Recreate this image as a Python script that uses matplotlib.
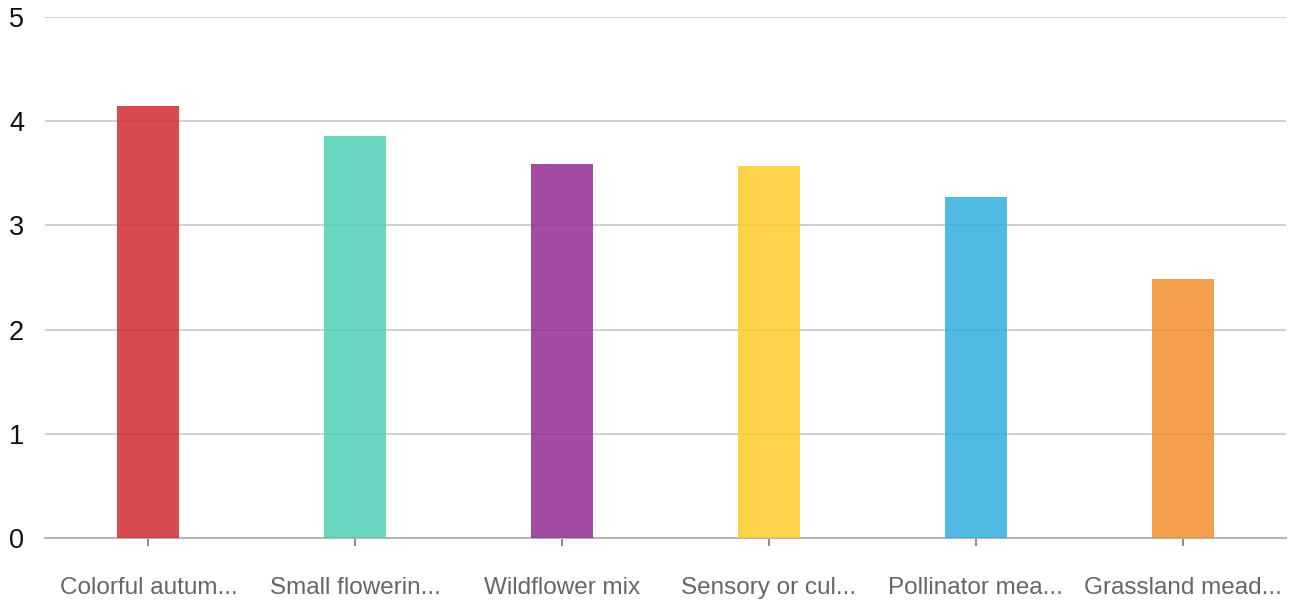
import matplotlib
matplotlib.use("Agg")
import matplotlib.pyplot as plt

categories = ["Colorful autum...", "Small flowerin...", "Wildflower mix",
              "Sensory or cul...", "Pollinator mea...", "Grassland mead..."]
values = [4.15, 3.86, 3.59, 3.57, 3.27, 2.49]
colors = ["#d02a2f", "#50d1b5", "#942b93", "#fdcc2a", "#30afdd", "#f38e2d"]
yticks = [0, 1, 2, 3, 4, 5]

plt.rcParams['font.family'] = ['Liberation Sans', 'DejaVu Sans']

fig = plt.figure(figsize=(12.91, 6.02), dpi=100)
ax = fig.add_axes([45/1291, 64/602, (1286-45)/1291, (538-17)/602])

x = list(range(len(categories)))
ax.bar(x, values, width=0.3, color=colors, alpha=0.85, zorder=3)

ax.set_xlim(-0.5, len(categories) - 0.5)
ax.set_ylim(0, 5)
ax.set_yticks(yticks)
ax.set_yticklabels([str(t) for t in yticks], fontsize=19.5, color="#111111")
ax.set_xticks(x)
ax.set_xticklabels(categories, fontsize=17.5, color="#666666")

ax.grid(axis='y', color='#d0d0d0', linewidth=1.4, zorder=0)
ax.set_axisbelow(True)
for s in ['top', 'right', 'left']:
    ax.spines[s].set_visible(False)
ax.spines['bottom'].set_color('#b5b5b5')
ax.spines['bottom'].set_linewidth(1.5)
ax.spines['bottom'].set_zorder(2)
ax.tick_params(axis='y', length=0, pad=15)
ax.tick_params(axis='x', length=6, width=1.2, color='#777777', pad=22)

fig.savefig("out.png", dpi=100)
